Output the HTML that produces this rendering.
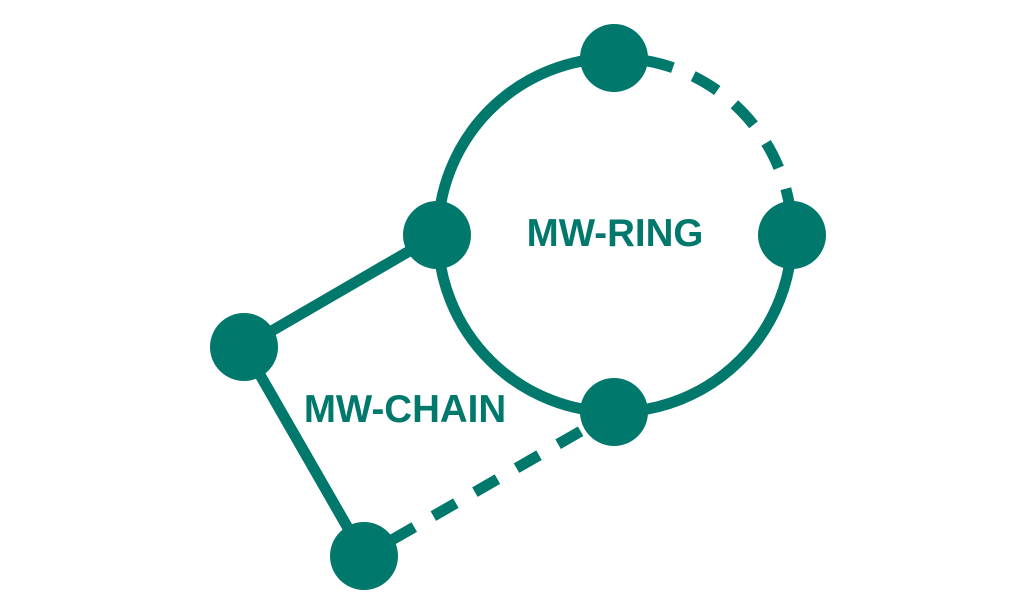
<!DOCTYPE html>
<html><head><style>html,body{margin:0;padding:0;background:#fff}svg{display:block}</style></head>
<body>
<svg width="1034" height="614" viewBox="0 0 1034 614" xmlns="http://www.w3.org/2000/svg">
<g stroke="#00786C" stroke-width="11" fill="none">
<path d="M614 58 A177 177 0 1 0 792 235"/>
<path d="M614 58 A177 177 0 0 1 792 235" stroke-dasharray="28 22" stroke-dashoffset="-32"/>
<line x1="437" y1="235" x2="244" y2="347"/>
<line x1="244" y1="347" x2="364" y2="556"/>
<line x1="364" y1="556" x2="614" y2="412" stroke-dasharray="26 22" stroke-dashoffset="-32"/>
</g>
<g fill="#00786C">
<circle cx="614" cy="58" r="34"/>
<circle cx="437" cy="235" r="34"/>
<circle cx="792" cy="235" r="34"/>
<circle cx="614" cy="412" r="34"/>
<circle cx="244" cy="347" r="34"/>
<circle cx="364" cy="556" r="34"/>
<text x="615" y="246" text-anchor="middle" font-family="Liberation Sans, sans-serif" font-weight="bold" font-size="38.5">MW-RING</text>
<text x="405" y="422" text-anchor="middle" font-family="Liberation Sans, sans-serif" font-weight="bold" font-size="38.5">MW-CHAIN</text>
</g>
</svg>
</body></html>
